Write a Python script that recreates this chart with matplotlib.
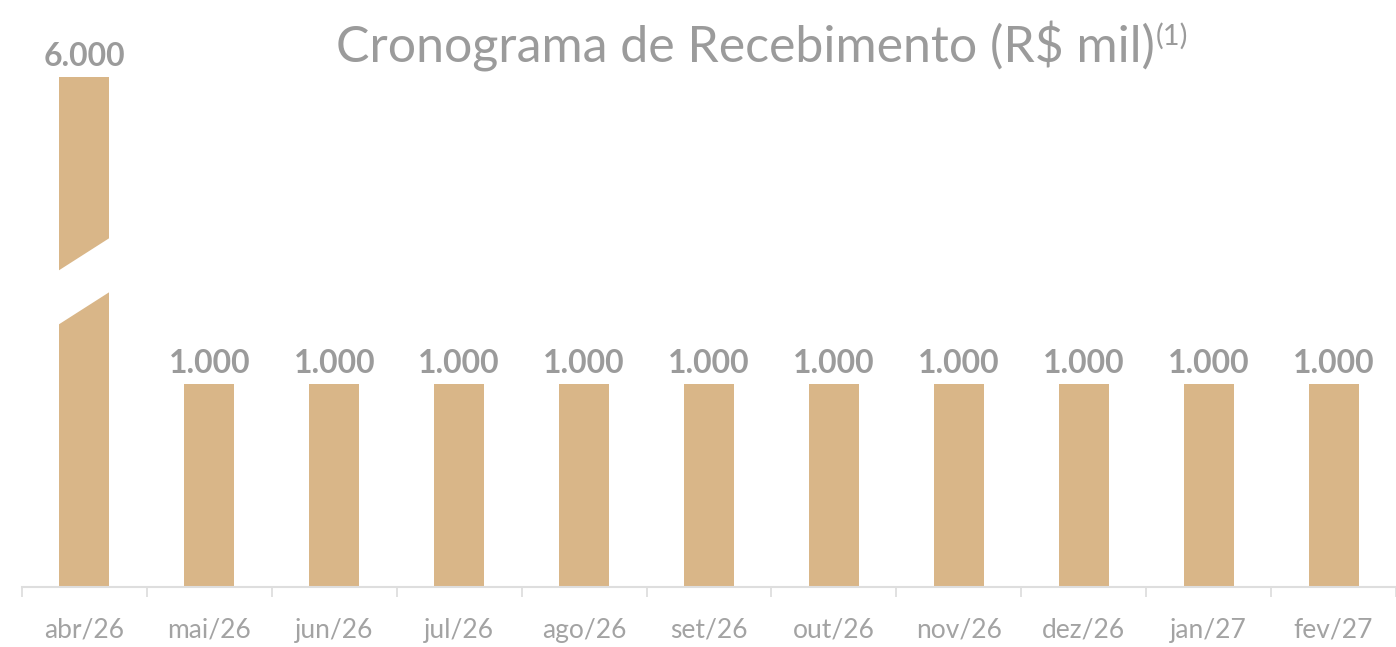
import numpy as np
import matplotlib
matplotlib.use("Agg")
import matplotlib.pyplot as plt

plt.rcParams['font.family'] = ['Lato', 'DejaVu Sans']

# dados
meses = ['abr/26', 'mai/26', 'jun/26', 'jul/26', 'ago/26', 'set/26',
         'out/26', 'nov/26', 'dez/26', 'jan/27', 'fev/27']
valores = [6000, 1000, 1000, 1000, 1000, 1000, 1000, 1000, 1000, 1000, 1000]
rotulos = ['6.000', '1.000', '1.000', '1.000', '1.000', '1.000',
           '1.000', '1.000', '1.000', '1.000', '1.000']

COR_BARRA = '#D9B688'
COR_TEXTO = '#9B9B9B'
COR_EIXO = '#DEDEDE'

# escala com quebra: linear ate 2000, comprimida acima
B, K = 2000.0, 0.128


def fwd(v):
    v = np.asarray(v, dtype=float)
    return np.where(v <= B, v, B + (v - B) * K)


def inv(t):
    t = np.asarray(t, dtype=float)
    return np.where(t <= B, t, B + (t - B) / K)


fig = plt.figure(figsize=(13.96, 6.47), dpi=100)
ax = fig.add_axes([22 / 1396, 60 / 647, 1 - 22 / 1396, 587 / 647])
ax.set_yscale('function', functions=(fwd, inv))

x = np.arange(len(meses))
ax.bar(x, valores, width=0.4, color=COR_BARRA, zorder=2)

# faixa branca da quebra na primeira barra
xb = [x[0] - 0.22, x[0] + 0.22, x[0] + 0.22, x[0] - 0.22]
yb = [1288, 1461, 1727, 1554]
ax.fill(xb, yb, color='white', lw=0, zorder=3)

for xi, v, r in zip(x, valores, rotulos):
    ax.annotate(r, (xi, v), xytext=(0, 8), textcoords='offset points',
                ha='center', va='baseline', fontsize=23, fontweight='bold',
                color=COR_TEXTO)

ax.set_xlim(-0.5, 10.41)
ax.set_ylim(0, float(inv(2892)))

ax.set_xticks(x)
ax.set_xticklabels(meses, fontsize=19, color='#A3A3A3')
ax.set_xticks(np.arange(-0.5, 11, 1), minor=True)
ax.tick_params(axis='x', which='major', length=0, pad=22)
ax.tick_params(axis='x', which='minor', length=7.5, width=1.3, color=COR_EIXO,
               direction='out')
ax.set_yticks([])
ax.yaxis.set_minor_locator(matplotlib.ticker.NullLocator())
for s in ['top', 'right', 'left']:
    ax.spines[s].set_visible(False)
ax.spines['bottom'].set_color(COR_EIXO)
ax.spines['bottom'].set_linewidth(1.5)

titulo = fig.text(745 / 1396, 1 - 46 / 647, 'Cronograma de Recebimento (R$ mil)',
                  ha='center', va='center', fontsize=36,
                  color=COR_TEXTO)
fig.canvas.draw()
bb = titulo.get_window_extent()
fig.text(bb.x1 / 1396 + 0.001, (bb.y1 - 2) / 647, '(1)', ha='left', va='top',
         fontsize=21, color=COR_TEXTO)

fig.savefig('out.png', dpi=100)
